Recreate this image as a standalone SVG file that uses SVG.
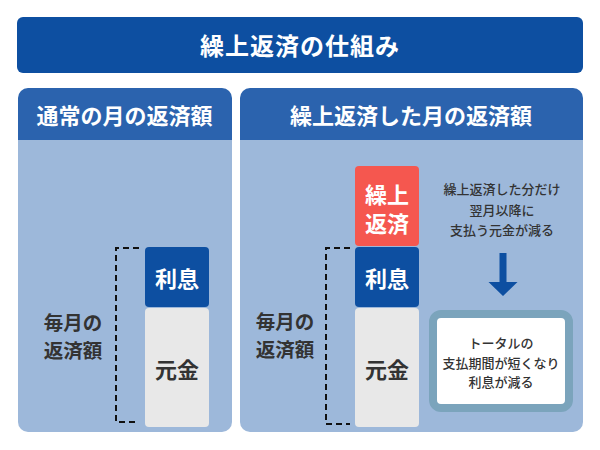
<svg xmlns="http://www.w3.org/2000/svg" width="600" height="450" viewBox="0 0 600 450">
<style>
text{font-family:"Noto Sans CJK JP","Noto Sans",sans-serif;font-weight:700;text-anchor:middle;dominant-baseline:central}
.w{fill:#fff}
.d{fill:#333}
.hd{fill:#2b63ae}
.bd{fill:#9db8da}
.n{font-size:13px;font-weight:500}
.dash{fill:none;stroke:#111;stroke-width:2;stroke-dasharray:6 4}
</style>
<rect width="600" height="450" fill="#fff"/>
<g id="title">
<rect x="17" y="17" width="566" height="56" rx="6" fill="#0d4fa1"/>
<text x="300" y="44" class="w" font-size="24" letter-spacing="1">繰上返済の仕組み</text>
</g>
<g id="left-panel">
<path d="M18,98 a10,10 0 0 1 10,-10 h194 a10,10 0 0 1 10,10 v42 h-214z" class="hd"/>
<path d="M18,140 h214 v282 a10,10 0 0 1 -10,10 h-194 a10,10 0 0 1 -10,-10z" class="bd"/>
<text x="124.5" y="114" class="w" font-size="22">通常の月の返済額</text>
</g>
<g id="right-panel">
<path d="M240,98 a10,10 0 0 1 10,-10 h323 a10,10 0 0 1 10,10 v42 h-343z" class="hd"/>
<path d="M240,140 h343 v282 a10,10 0 0 1 -10,10 h-323 a10,10 0 0 1 -10,-10z" class="bd"/>
<text x="411" y="114" class="w" font-size="22">繰上返済した月の返済額</text>
</g>
<g id="left-interest">
<rect x="145" y="247" width="64" height="60" rx="4" fill="#0d4fa1"/>
<text x="177" y="277" class="w" font-size="22">利息</text>
</g>
<g id="left-principal">
<rect x="145" y="308" width="64" height="119" rx="4" fill="#e8e8e8"/>
<text x="177" y="368" class="d" font-size="22">元金</text>
</g>
<g id="left-label">
<text x="73" y="321" class="d" font-size="19.5">毎月の</text>
<text x="73" y="349" class="d" font-size="19.5">返済額</text>
</g>
<g id="right-prepay">
<rect x="355" y="166" width="64" height="80" rx="4" fill="#f5574f"/>
<text class="w" font-size="22"><tspan x="387" y="193">繰上</tspan><tspan x="387" y="222">返済</tspan></text>
</g>
<g id="right-interest">
<rect x="355" y="247" width="64" height="60" rx="4" fill="#0d4fa1"/>
<text x="387" y="277" class="w" font-size="22">利息</text>
</g>
<g id="right-principal">
<rect x="355" y="308" width="64" height="119" rx="4" fill="#e8e8e8"/>
<text x="387" y="368" class="d" font-size="22">元金</text>
</g>
<g id="right-label">
<text x="285" y="320.5" class="d" font-size="19.5">毎月の</text>
<text x="285" y="348.5" class="d" font-size="19.5">返済額</text>
</g>
<g id="note">
<text class="d n"><tspan x="502" y="188">繰上返済した分だけ</tspan><tspan x="502" y="209">翌月以降に</tspan><tspan x="502" y="229">支払う元金が減る</tspan></text>
</g>
<g id="result">
<rect x="433" y="314" width="136" height="94" rx="8" fill="#fff" stroke="#7ba4bc" stroke-width="8"/>
<text class="d n"><tspan x="501" y="342">トータルの</tspan><tspan x="501" y="362">支払期間が短くなり</tspan><tspan x="501" y="381">利息が減る</tspan></text>
</g>
<g id="connectors">
<path d="M139,248 H116 V422 H139" class="dash"/>
<path d="M350,248 H326 V424 H350" class="dash"/>
<path d="M499.5,253 h7 v29 h11 l-14.5,14 l-14.5,-14 h11z" fill="#0d4fa1"/>
</g>
</svg>
